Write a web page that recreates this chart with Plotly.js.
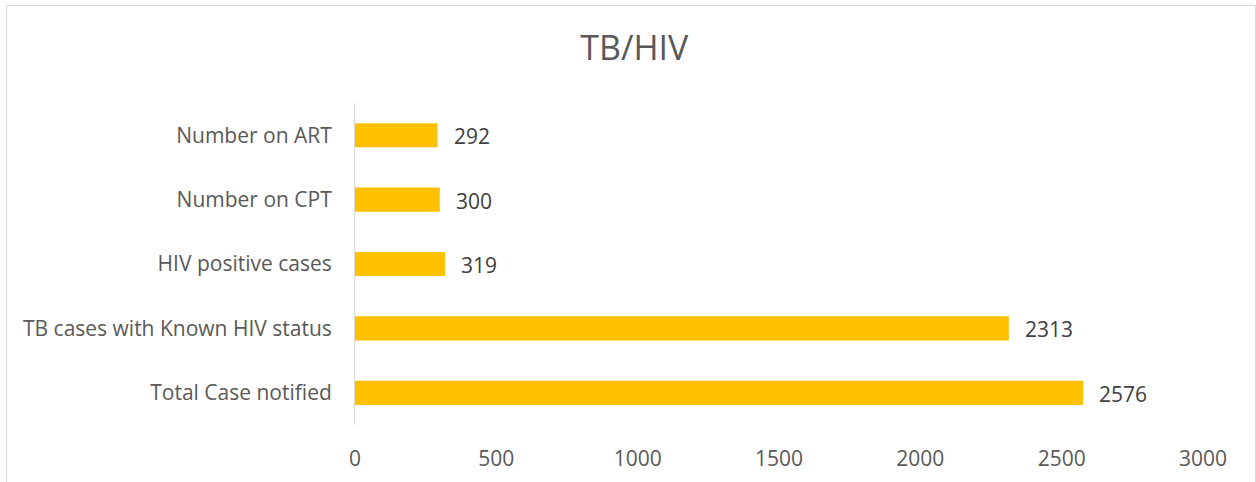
<!DOCTYPE html>
<html><head><meta charset="utf-8">
<script src="https://cdn.plot.ly/plotly-3.0.1.min.js"></script>
<style>
html,body{margin:0;padding:0;background:#fff;}
#frame{position:absolute;left:6px;top:5px;width:1250px;height:500px;border:1px solid #d9d9d9;box-sizing:border-box;}
#chart{position:absolute;left:0;top:0;width:1256px;height:482px;}
</style></head>
<body>
<div id="frame"></div>
<div id="chart"></div>
<script>
var categories = ["Total Case notified", "TB cases with Known HIV status", "HIV positive cases", "Number on CPT", "Number on ART"];
var values = [2576, 2313, 319, 300, 292];
var xTicks = [0, 500, 1000, 1500, 2000, 2500, 3000];

var trace = {
  type: 'bar', orientation: 'h',
  x: values, y: categories,
  marker: {color: '#FFC000'},
  hoverinfo: 'x+y'
};
var annotations = values.map(function(v, i){
  return {x: v, y: categories[i], xref: 'x', yref: 'y', text: String(v),
    showarrow: false, xanchor: 'left', yanchor: 'middle', xshift: 14, yshift: -1,
    font: {family: 'Open Sans, sans-serif', size: 21, color: '#404040'}};
});
var layout = {
  width: 1256, height: 482,
  margin: {l: 355, r: 53, t: 103, b: 57},
  paper_bgcolor: 'rgba(0,0,0,0)', plot_bgcolor: 'rgba(0,0,0,0)',
  title: {text: 'TB/HIV', x: 0.505, xanchor: 'center', y: 0.9, yanchor: 'middle',
    font: {family: 'Open Sans, sans-serif', size: 34, color: '#595959'}},
  bargap: 0.625,
  showlegend: false,
  xaxis: {range: [0, 3000], tickvals: xTicks, ticktext: xTicks.map(String),
    showgrid: false, zeroline: false, showline: false,
    ticks: 'outside', ticklen: 15, tickcolor: 'rgba(0,0,0,0)',
    tickfont: {family: 'Open Sans, sans-serif', size: 21, color: '#595959'}},
  yaxis: {showgrid: false, zeroline: false, showline: true, linecolor: '#d9d9d9', linewidth: 1,
    ticks: 'outside', ticklen: 18, tickcolor: 'rgba(0,0,0,0)',
    tickfont: {family: 'Open Sans, sans-serif', size: 21, color: '#595959'}},
  annotations: annotations
};
Plotly.newPlot('chart', [trace], layout, {displayModeBar: false, responsive: false});
</script>
</body></html>
